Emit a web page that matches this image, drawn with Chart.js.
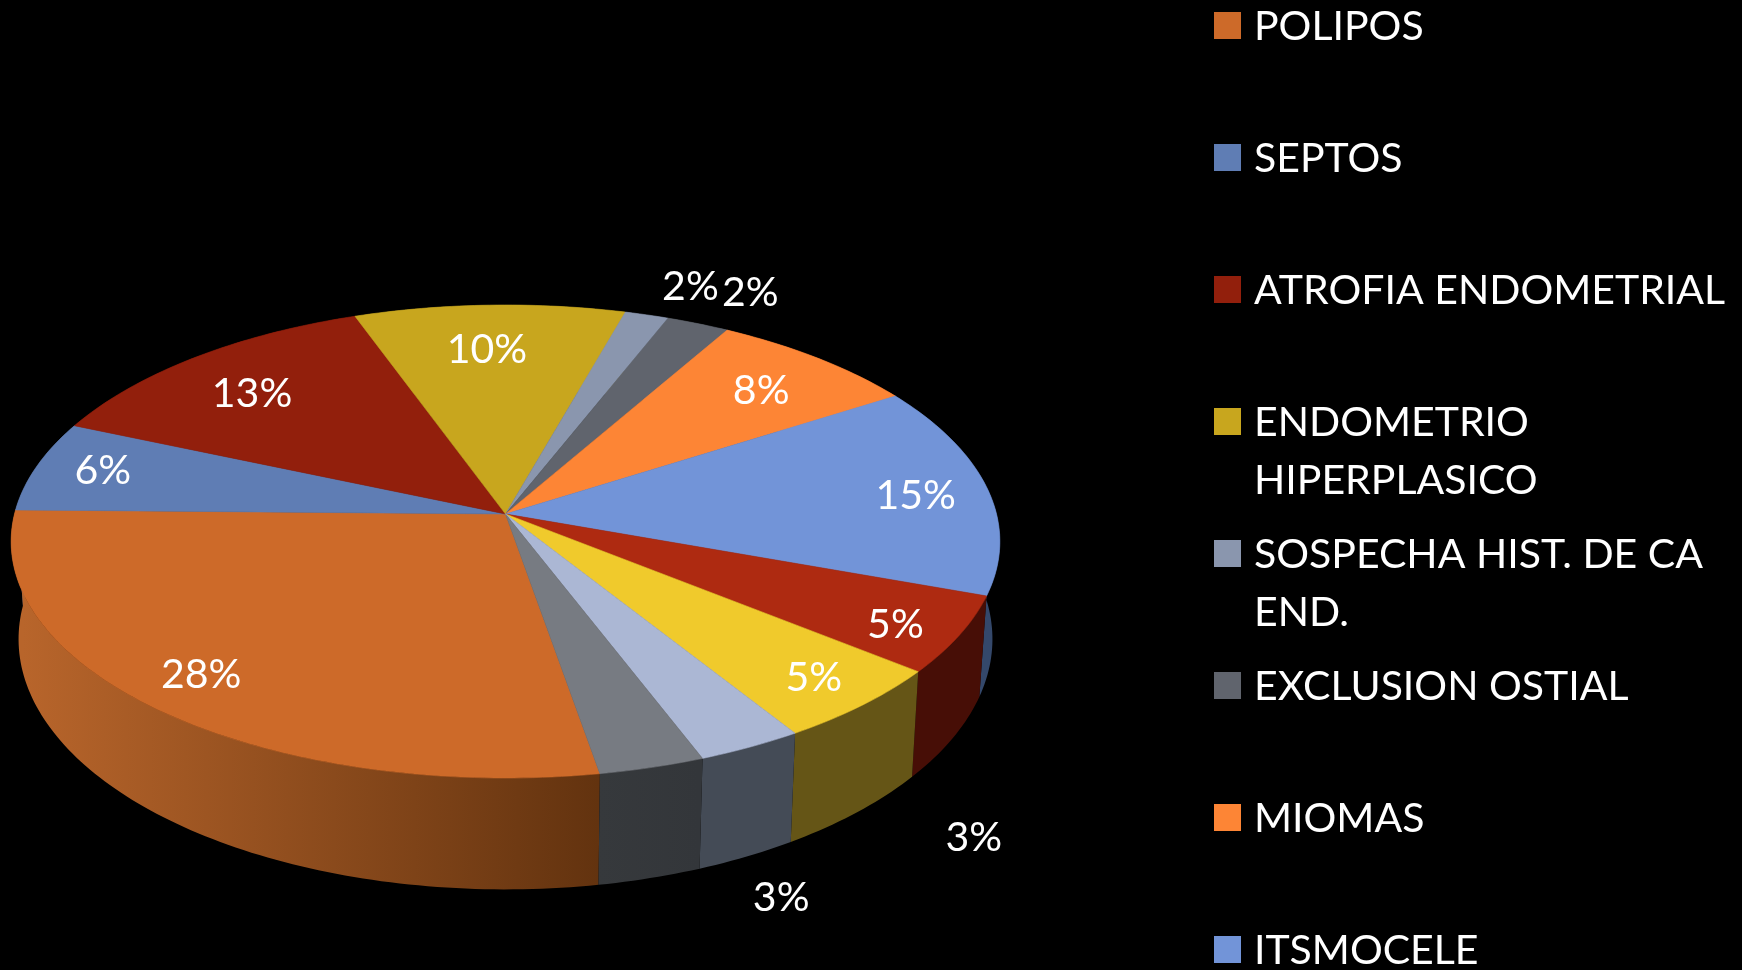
<!DOCTYPE html>
<html><head><meta charset="utf-8">
<style>html,body{margin:0;padding:0;background:#000;overflow:hidden}canvas{display:block}</style>
<script src="https://cdn.jsdelivr.net/npm/chart.js@4/dist/chart.umd.js"></script>
</head><body><canvas id="c" width="1742" height="970"></canvas>
<script>
// Legend names; the last four legend rows fall outside the picture, so their names cannot be read.
const categories = ['POLIPOS','SEPTOS','ATROFIA ENDOMETRIAL',['ENDOMETRIO','HIPERPLASICO'],['SOSPECHA HIST. DE CA','END.'],'EXCLUSION OSTIAL','MIOMAS','ITSMOCELE','','','',''];
const values = [28.0,6.2,13.0,9.9,1.6,2.3,7.7,14.5,5.3,5.3,3.1,3.1];
const topColors = ['#cd6a29','#5f7db4','#921f0c','#c8a61e','#8a96ae','#60646d','#fd8535','#7294d8','#ae2a11','#f0ca2c','#abb7d4','#777b82'];
const wallFrom = ['#b8652b','#3f5478','#611508','#857014','#5c6474','#404349','#a95923','#34486b','#470e06','#655516','#444b56','#36393c'];
const wallTo   = ['#63330f','#3f5478','#611508','#857014','#5c6474','#404349','#a95923','#34486b','#470e06','#655516','#444b56','#33363a'];
const labelRadius = [.856,.86,.78,.771,1.184,1.208,.794,.847,.876,.87,1.449,1.457];
const labelShift  = [-1.5,-.7,1.5,1,-2.4,-2,-.7,-.9,-1.5,.2,8,3.5];

const FONT = 'Lato, Carlito, sans-serif';
const FS = 41, KP = 0.1163, KX = 491/456, KY = 233.3/456, KY_B = 246.9/456, KX_B = 0.985*491/456, DY_B = 96/456;

function topPt(a,r,R,cx,cy,f){const u=Math.cos(a)*f,v=Math.sin(a)*f;const w=1-KP*v;return [cx+KX*R*u/w,cy+KY*R*v/w];}
function botPt(a,R,cx,cy){const u=Math.cos(a),v=Math.sin(a);const w=1-KP*v;return [cx+KX_B*R*u/w,cy+DY_B*R+KY_B*R*v/w];}

const pie3d = {
  id:'pie3d',
  beforeDatasetsDraw(chart){
    const ctx=chart.ctx, arcs=chart.getDatasetMeta(0).data;
    const order=arcs.map((_,i)=>i).sort((p,q)=>Math.sin((arcs[p].startAngle+arcs[p].endAngle)/2)-Math.sin((arcs[q].startAngle+arcs[q].endAngle)/2));
    order.forEach(i=>{
      const e=arcs[i],R=e.outerRadius,n=Math.max(4,Math.ceil((e.endAngle-e.startAngle)*180/Math.PI));
      const T=[],B=[];
      for(let k=0;k<=n;k++){const a=e.startAngle+(e.endAngle-e.startAngle)*k/n;T.push(topPt(a,0,R,e.x,e.y,1));B.push(botPt(a,R,e.x,e.y));}
      const g=ctx.createLinearGradient(B[n][0],0,B[0][0],0);
      g.addColorStop(0,wallFrom[i]);g.addColorStop(1,wallTo[i]);
      ctx.beginPath();T.forEach((p,k)=>k?ctx.lineTo(p[0],p[1]):ctx.moveTo(p[0],p[1]));
      for(let k=n;k>=0;k--)ctx.lineTo(B[k][0],B[k][1]);
      ctx.closePath();ctx.fillStyle=g;ctx.fill();
    });
    arcs.forEach((e,i)=>{
      const R=e.outerRadius,n=Math.max(4,Math.ceil((e.endAngle-e.startAngle)*180/Math.PI));
      ctx.beginPath();ctx.moveTo(e.x,e.y);
      for(let k=0;k<=n;k++){const a=e.startAngle+(e.endAngle-e.startAngle)*k/n;const p=topPt(a,0,R,e.x,e.y,1);ctx.lineTo(p[0],p[1]);}
      ctx.closePath();ctx.fillStyle=topColors[i];ctx.strokeStyle=topColors[i];ctx.lineWidth=.6;ctx.fill();ctx.stroke();
    });
    return false;
  },
  afterDraw(chart){
    const ctx=chart.ctx, arcs=chart.getDatasetMeta(0).data, total=values.reduce((s,x)=>s+x,0);
    ctx.save();
    ctx.fillStyle='#fff';ctx.font=FS+'px '+FONT;ctx.textBaseline='alphabetic';ctx.textAlign='center';
    arcs.forEach((e,i)=>{
      const a=(e.startAngle+e.endAngle)/2-labelShift[i]*Math.PI/180;
      const p=topPt(a,0,e.outerRadius,e.x,e.y,labelRadius[i]);
      ctx.fillText(Math.round(values[i]/total*100)+'%',p[0],p[1]+14);
    });
    ctx.textAlign='left';
    categories.forEach((name,i)=>{
      if(!name)return;
      const y=25.5+132*i;
      ctx.fillStyle=topColors[i];ctx.fillRect(1214,y-13.5,27,27);
      ctx.fillStyle='#fff';
      [].concat(name).forEach((line,j)=>ctx.fillText(line,1254,y+14+58*j));
    });
    ctx.restore();
  }
};

new Chart(document.getElementById('c'),{
  type:'pie',
  data:{labels:categories.map(c=>[].concat(c).join(' ')),datasets:[{data:values,backgroundColor:topColors,borderWidth:0,hoverOffset:0}]},
  options:{responsive:false,animation:false,rotation:170.2,
    layout:{padding:{left:0,right:731,top:58,bottom:0}},
    plugins:{legend:{display:false},tooltip:{enabled:false}}},
  plugins:[pie3d,{id:'bg',beforeDraw(c){c.ctx.fillStyle='#000';c.ctx.fillRect(0,0,c.width,c.height);}}]
});
</script></body></html>
